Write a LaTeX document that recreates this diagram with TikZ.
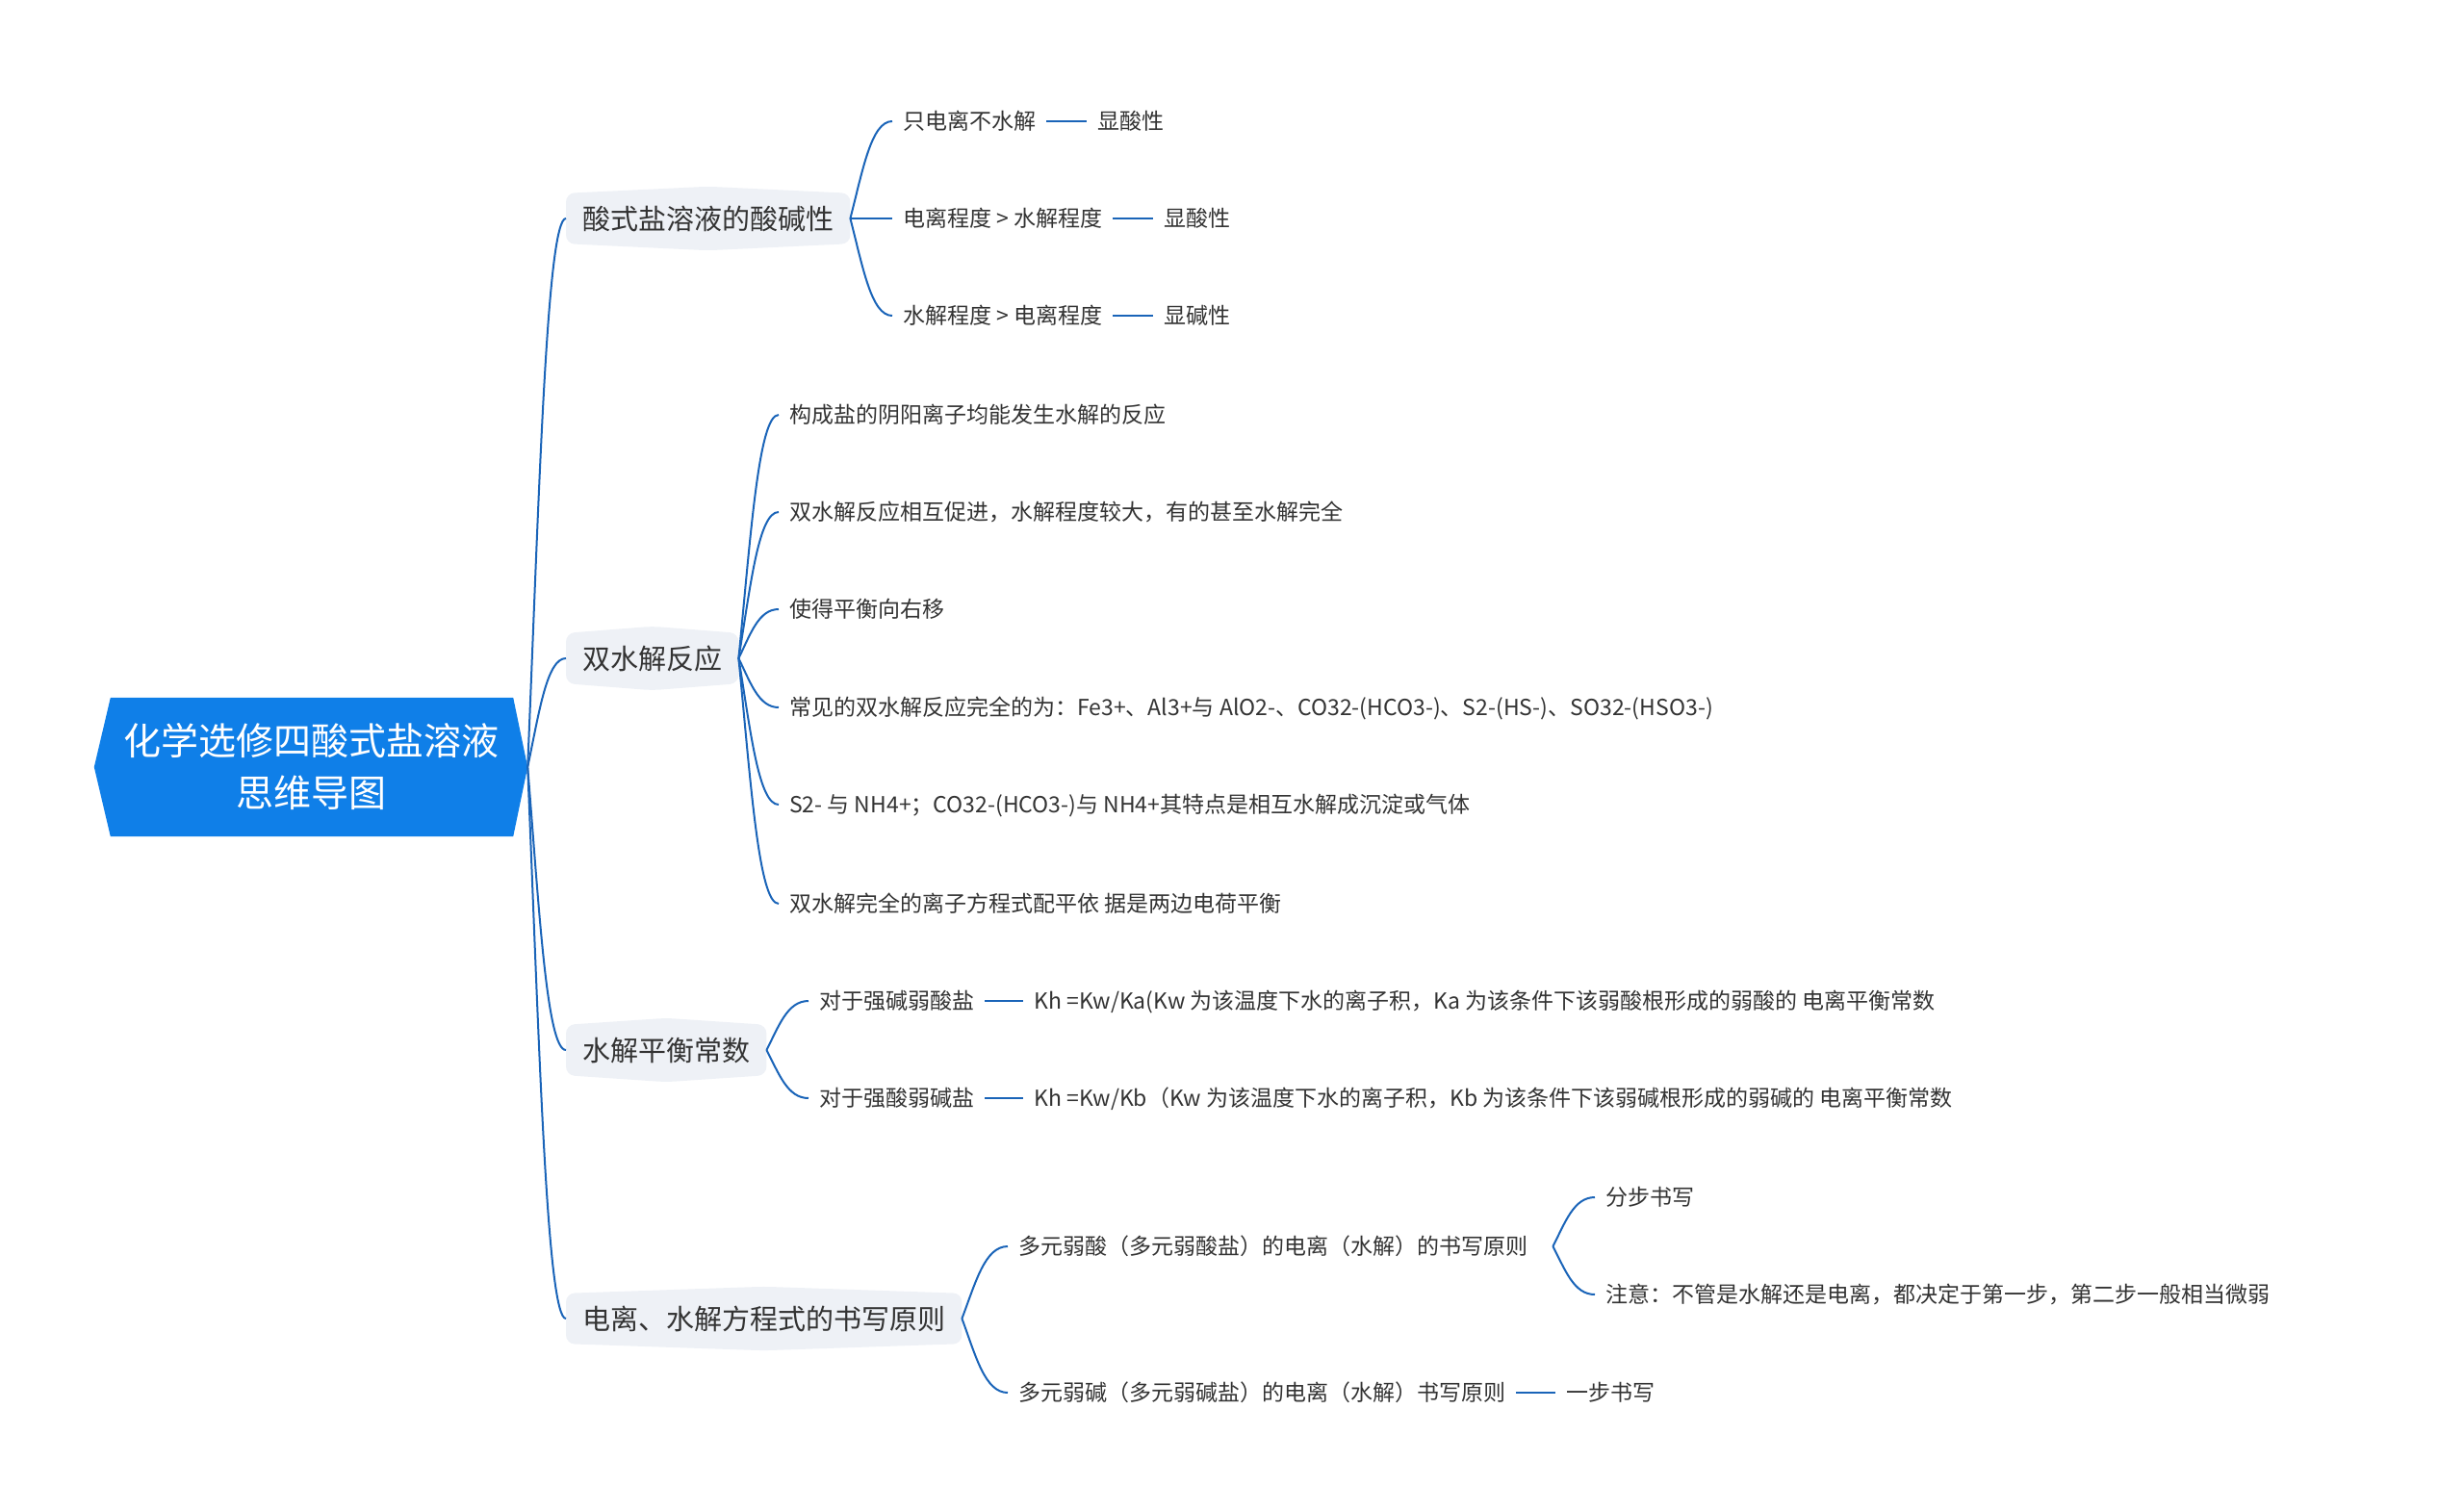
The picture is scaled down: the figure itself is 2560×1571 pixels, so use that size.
\documentclass[tikz,border=0pt]{standalone}
\usepackage{fontspec}
\setmainfont{Noto Sans CJK SC}
\usetikzlibrary{positioning,calc,backgrounds}
\definecolor{rootblue}{HTML}{0F7FE8}
\definecolor{linkblue}{HTML}{1A64B8}
\definecolor{lonefill}{HTML}{EEF1F6}
\definecolor{txt}{HTML}{333333}
\newcommand{\mmlink}[2]{\draw[link] let \p1=(#1), \p2=(#2) in (\p1) .. controls ({\x1+0.3*(\x2-\x1)},{\y1+0.5*(\y2-\y1)}) and ({\x1+0.5*(\x2-\x1)},\y2) .. (\p2);}
\begin{document}
\begin{tikzpicture}[x=1pt,y=-1pt,
  every node/.style={text=txt},
  rootnode/.style={font=\fontsize{39}{54}\selectfont, text=white, align=center, minimum width=450pt, minimum height=144pt, inner sep=0pt},
  lone/.style={font=\fontsize{29}{35}\selectfont, inner xsep=17pt, inner ysep=11.5pt, text height=25.5pt, text depth=3.5pt, anchor=west},
  ltwo/.style={font=\fontsize{23}{28}\selectfont, inner xsep=11pt, inner ysep=4pt, text height=20.2pt, text depth=2.8pt, anchor=west},
  link/.style={draw=linkblue, line width=2pt},
  dashlink/.style={draw=linkblue, line width=2.6pt},
]
\useasboundingbox (0,0) rectangle (2560,1571);

% root
\node[rootnode] (root) at (323,797) {化学选修四酸式盐溶液\\思维导图};

% level 1
\node[lone] (a) at (588,227) {酸式盐溶液的酸碱性};
\node[lone] (b) at (588,684) {双水解反应};
\node[lone] (c) at (588,1091) {水解平衡常数};
\node[lone] (d) at (588,1370) {电离、水解方程式的书写原则};

% group a
\node[ltwo] (a1) at (927,126) {只电离不水解};
\node[ltwo, right=42pt of a1] (a1r) {显酸性};
\node[ltwo] (a2) at (927,227) {电离程度 > 水解程度};
\node[ltwo, right=42pt of a2] (a2r) {显酸性};
\node[ltwo] (a3) at (927,328) {水解程度 > 电离程度};
\node[ltwo, right=42pt of a3] (a3r) {显碱性};

% group b
\node[ltwo] (b1) at (809,431) {构成盐的阴阳离子均能发生水解的反应};
\node[ltwo] (b2) at (809,532) {双水解反应相互促进，水解程度较大，有的甚至水解完全};
\node[ltwo] (b3) at (809,633) {使得平衡向右移};
\node[ltwo] (b4) at (809,735) {常见的双水解反应完全的为：Fe3+、Al3+与 AlO2-、CO32-(HCO3-)、S2-(HS-)、SO32-(HSO3-)};
\node[ltwo] (b5) at (809,836) {S2- 与 NH4+；CO32-(HCO3-)与 NH4+其特点是相互水解成沉淀或气体};
\node[ltwo] (b6) at (809,939) {双水解完全的离子方程式配平依 据是两边电荷平衡};

% group c
\node[ltwo] (c1) at (840,1040) {对于强碱弱酸盐};
\node[ltwo, right=40pt of c1] (c1r) {Kh =Kw/Ka(Kw 为该温度下水的离子积，Ka 为该条件下该弱酸根形成的弱酸的 电离平衡常数};
\node[ltwo] (c2) at (840,1141) {对于强酸弱碱盐};
\node[ltwo, right=40pt of c2] (c2r) {Kh =Kw/Kb（Kw 为该温度下水的离子积，Kb 为该条件下该弱碱根形成的弱碱的 电离平衡常数};

% group d
\node[ltwo] (d1) at (1047,1295) {多元弱酸（多元弱酸盐）的电离（水解）的书写原则};
\coordinate (d1j) at ([xshift=15pt]d1.east);
\node[ltwo] (d1a) at (1657,1244) {分步书写};
\node[ltwo] (d1b) at (1657,1345) {注意：不管是水解还是电离，都决定于第一步，第二步一般相当微弱};
\node[ltwo] (d2) at (1047,1447) {多元弱碱（多元弱碱盐）的电离（水解）书写原则};
\node[ltwo, right=41pt of d2] (d2r) {一步书写};

% backgrounds
\begin{scope}[on background layer]
\fill[rootblue] (root.west) -- ([xshift=17pt]root.north west) -- ([xshift=-15pt]root.north east) -- (root.east) -- ([xshift=-15pt]root.south east) -- ([xshift=17pt]root.south west) -- cycle;
\foreach \k in {a,b,c,d}
  \fill[lonefill, rounded corners=9pt] (\k.north west) -- ($(\k.north)+(0,-7)$) -- (\k.north east) -- (\k.south east) -- ($(\k.south)+(0,7)$) -- (\k.south west) -- cycle;
\end{scope}

% connectors root -> level 1
\foreach \k in {a,b,c,d} {\mmlink{root.east}{\k.west}}

% group links
\foreach \k in {a1,a2,a3} {\mmlink{a.east}{\k.west}}
\foreach \k in {b1,b2,b3,b4,b5,b6} {\mmlink{b.east}{\k.west}}
\foreach \k in {c1,c2} {\mmlink{c.east}{\k.west}}
\foreach \k in {d1,d2} {\mmlink{d.east}{\k.west}}
\foreach \k in {d1a,d1b} {\mmlink{d1j}{\k.west}}

% straight links
\draw[dashlink] (a1.east) -- (a1r.west);
\draw[dashlink] (a2.east) -- (a2r.west);
\draw[dashlink] (a3.east) -- (a3r.west);
\draw[dashlink] (c1.east) -- (c1r.west);
\draw[dashlink] (c2.east) -- (c2r.west);
\draw[dashlink] (d2.east) -- (d2r.west);
\end{tikzpicture}
\end{document}
